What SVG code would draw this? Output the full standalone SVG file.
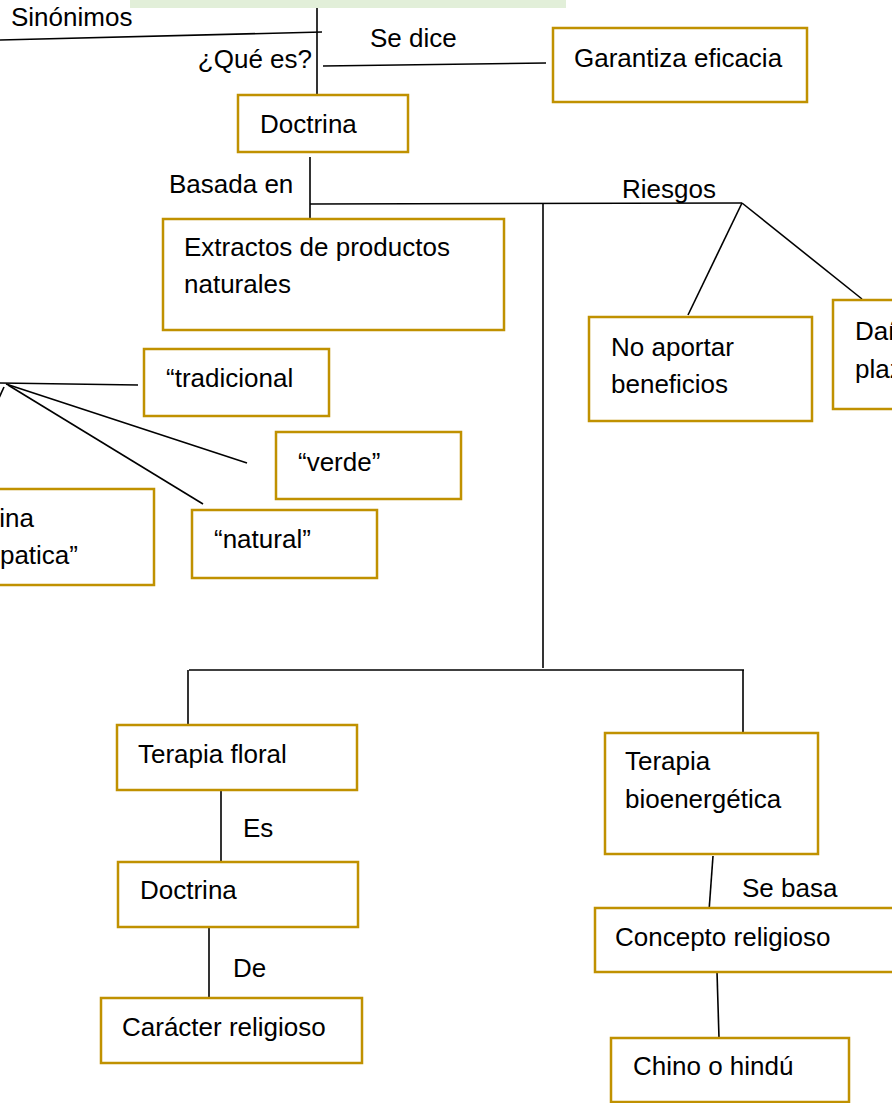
<svg xmlns="http://www.w3.org/2000/svg" width="892" height="1103" viewBox="0 0 892 1103">
<style>
.box{fill:#fff;stroke:#C09100;stroke-width:2.5}
.ln{stroke:#000;stroke-width:1.6;fill:none}
text{font-family:"Liberation Sans",Arial,sans-serif;font-size:26px;fill:#000}
</style>
<rect width="892" height="1103" fill="#fff"/>
<rect x="130" y="0" width="436" height="8" fill="#E2EFD9"/>
<g id="connectors">
<line class="ln" x1="317" y1="8" x2="317" y2="96"/>
<line class="ln" x1="0" y1="40" x2="322" y2="32"/>
<line class="ln" x1="323" y1="66" x2="546" y2="63"/>
<line class="ln" x1="310" y1="157" x2="310" y2="221"/>
<line class="ln" x1="310" y1="204" x2="742" y2="203"/>
<line class="ln" x1="543" y1="204" x2="543" y2="668"/>
<line class="ln" x1="742" y1="203" x2="688" y2="315"/>
<line class="ln" x1="742" y1="203" x2="862" y2="299"/>
<line class="ln" x1="0" y1="383" x2="138" y2="385"/>
<line class="ln" x1="6" y1="384" x2="247" y2="463"/>
<line class="ln" x1="8" y1="385" x2="203" y2="504"/>
<line class="ln" x1="4" y1="387" x2="-1" y2="398"/>
<line class="ln" x1="189" y1="670" x2="744" y2="670"/>
<line class="ln" x1="188" y1="670" x2="188" y2="725"/>
<line class="ln" x1="743" y1="670" x2="743" y2="737"/>
<line class="ln" x1="221" y1="790" x2="221" y2="863"/>
<line class="ln" x1="209" y1="927" x2="209" y2="998"/>
<line class="ln" x1="713" y1="856" x2="709" y2="911"/>
<line class="ln" x1="717" y1="972" x2="719" y2="1038"/>
</g>
<g id="labels">
<text x="11" y="26">Sinónimos</text>
<text x="370" y="47">Se dice</text>
<text x="312" y="68" text-anchor="end">¿Qué es?</text>
<text x="169" y="193">Basada en</text>
<text x="622" y="198">Riesgos</text>
<text x="243" y="837">Es</text>
<text x="233" y="977">De</text>
<text x="742" y="897">Se basa</text>
</g>
<g id="garantiza"><rect class="box" x="553" y="28" width="254" height="74"/><text x="574" y="67">Garantiza eficacia</text></g>
<g id="doctrina1"><rect class="box" x="238" y="95" width="170" height="57"/><text x="260" y="133">Doctrina</text></g>
<g id="extractos"><rect class="box" x="163" y="219" width="341" height="111"/><text x="184" y="256">Extractos de productos</text><text x="184" y="293">naturales</text></g>
<g id="noaportar"><rect class="box" x="589" y="317" width="223" height="104"/><text x="611" y="356">No aportar</text><text x="611" y="393">beneficios</text></g>
<g id="danos"><rect class="box" x="833" y="300" width="70" height="109"/><text x="855" y="340">Daños</text><text x="855" y="378">plazo</text></g>
<g id="tradicional"><rect class="box" x="144" y="349" width="185" height="67"/><text x="166" y="387">“tradicional</text></g>
<g id="verde"><rect class="box" x="276" y="432" width="185" height="67"/><text x="298" y="471">“verde”</text></g>
<g id="natural"><rect class="box" x="192" y="510" width="185" height="68"/><text x="214" y="548">“natural”</text></g>
<g id="medicina"><rect class="box" x="-10" y="489" width="164" height="96"/><text x="34" y="527" text-anchor="end">“Medicina</text><text x="78" y="564" text-anchor="end">homeopatica”</text></g>
<g id="floral"><rect class="box" x="117" y="725" width="240" height="65"/><text x="138" y="763">Terapia floral</text></g>
<g id="doctrina2"><rect class="box" x="118" y="862" width="240" height="65"/><text x="140" y="899">Doctrina</text></g>
<g id="caracter"><rect class="box" x="101" y="998" width="261" height="65"/><text x="122" y="1036">Carácter religioso</text></g>
<g id="bioenergetica"><rect class="box" x="605" y="733" width="213" height="121"/><text x="625" y="770">Terapia</text><text x="625" y="808">bioenergética</text></g>
<g id="concepto"><rect class="box" x="595" y="908" width="300" height="64"/><text x="615" y="946">Concepto religioso</text></g>
<g id="chino"><rect class="box" x="611" y="1038" width="238" height="64"/><text x="633" y="1075">Chino o hindú</text></g>
</svg>
